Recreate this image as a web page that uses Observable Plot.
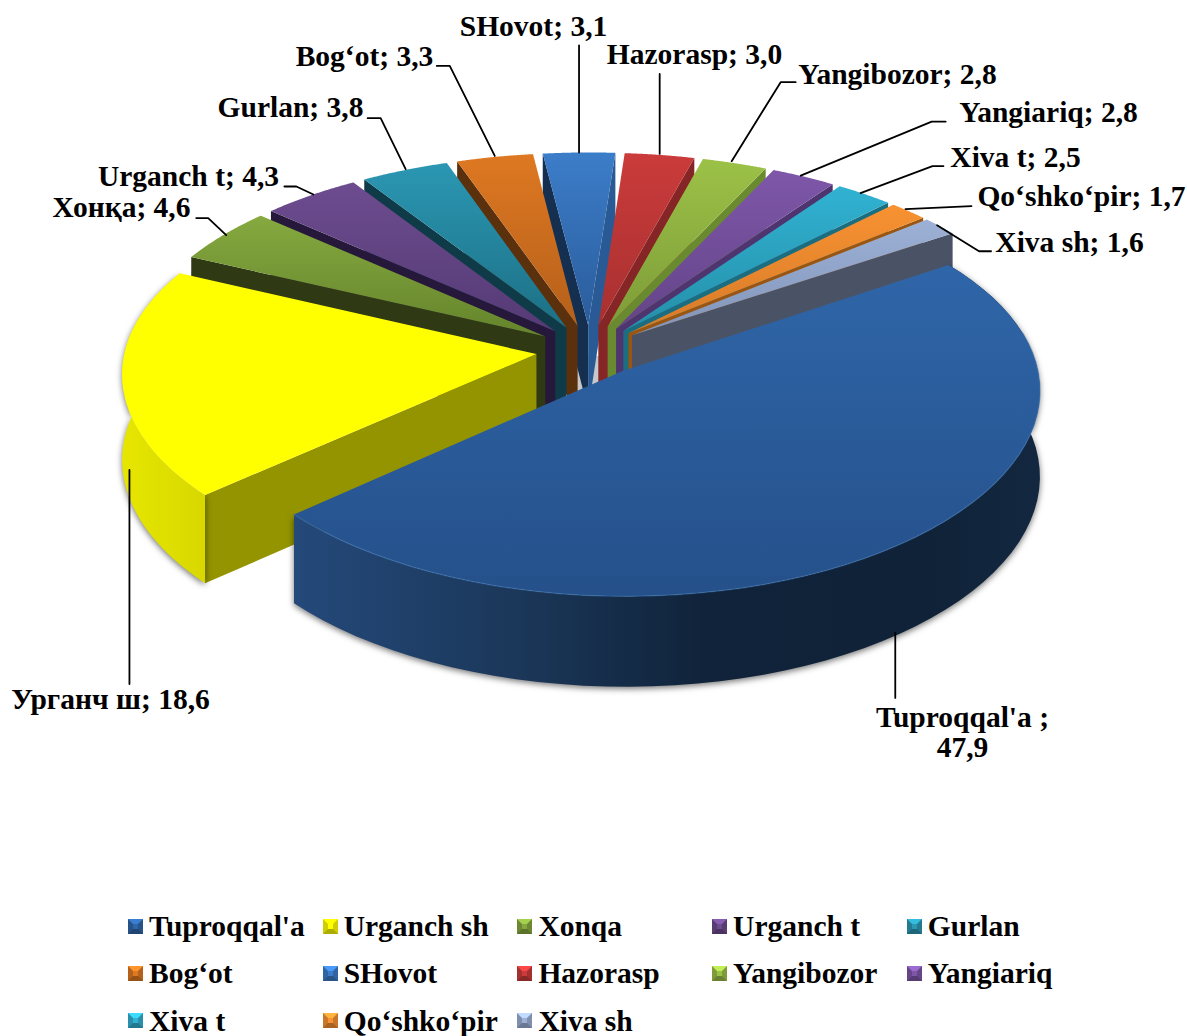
<!DOCTYPE html>
<html><head><meta charset="utf-8">
<script src="https://cdn.jsdelivr.net/npm/d3@7"></script>
<script src="https://cdn.jsdelivr.net/npm/@observablehq/plot@0.6"></script>
<style>
html,body{margin:0;background:#fff;overflow:hidden}
#chart svg{display:block}
#legend{position:relative;height:146px;width:1187px;font:bold 29.5px "Liberation Serif",serif;color:#000}
.item{position:absolute;display:flex;align-items:center;white-space:nowrap;line-height:26px}
.key{display:inline-block;width:5px;height:5px;border-style:solid;border-width:5px;margin-right:6px;flex:none}
</style></head><body>
<div id="chart"></div><div id="legend"></div>
<script>
const categories=["Tuproqqal'a","Urganch sh","Xonqa","Urganch t","Gurlan","Bog‘ot","SHovot","Hazorasp","Yangibozor","Yangiariq","Xiva t","Qo‘shko‘pir","Xiva sh"];
const labelNames=["Tuproqqal'a ;\n","Урганч ш; ","Хонқа; ","Urganch t; ","Gurlan; ","Bog‘ot; ","SHovot; ","Hazorasp; ","Yangibozor; ","Yangiariq; ","Xiva t; ","Qo‘shko‘pir; ","Xiva sh; "];
const values=[47.9,18.6,4.6,4.3,3.8,3.3,3.1,3.0,2.8,2.8,2.5,1.7,1.6];
const topLight=["#2f66a9","#ffff00","#86a93f","#6d4c8f","#2b97b3","#de7822","#3c7dc9","#cb3b3b","#9cc147","#7e57a9","#31b2d2","#f89232","#9db1d7"];
const topDark=["#25508a","#ffff00","#65842c","#553a75","#1c7085","#b5601a","#2a5c9b","#a83030","#7d9c38","#644488","#248fa8","#d67a28","#8194b8"];
const wallStart=["#10233a","#949400","#2f3a15","#26183a","#0f3b48","#5a300d","#142f50","#862525","#6a8a30","#4f3570","#1b6d80","#9a5510","#465060"];
const wallEnd=["#10233a","#949400","#2f3a15","#26183a","#0f3b48","#5a300d","#2a5a95","#862525","#6a8a30","#4f3570","#1b6d80","#9a5510","#4a5366"];
// page layout of the callouts: label centre, and leader vertices relative to each slice's rim point
const labelAt=[[962,732],[110,699],[121,207],[188,176],[290,107],[364,56],[533,26],[694,54],[897,74],[1048,112],[1015,157],[1081,196],[1069,242]];
const leaderOffsets=[[[-4,-1],[-4,64]],[[7,2],[7,216]],[[3,0],[-15,-17],[-27,-17]],[[3,-1],[-14,-9],[-26,-9]],[[1,-1],[-24,-52],[-37,-52]],[[0,-1],[-45,-91],[-58,-91]],[[0,0],[0,-107]],[[0,-1],[0,-81]],[[-3,-2],[46,-81],[61,-81]],[[-3,-1],[128,-55],[142,-55]],[[-4,-1],[68,-28],[79,-28]],[[-3,-2],[63,-5]],[[-3,-1],[39,25],[51,25]]];
const startAngle=56,cx=589,cy=350,R=411.5,A=196.5,kx=0.09,ky=0.1072,explode=0.13,baseDepth=85,depthPow=0.5;
const rad=d=>d*Math.PI/180;
const total=d3.sum(values);
let run=0;
const slices=values.map((v,i)=>{const a0=startAngle+run/total*360;run+=v;const a1=startAngle+run/total*360;return{i,name:categories[i],v,a0,a1,mid:(a0+a1)/2};});
function pt(s,a,r,down){
  const X=r*Math.sin(rad(a))+explode*Math.sin(rad(s.mid));
  const Z=r*Math.cos(rad(a))+explode*Math.cos(rad(s.mid));
  const w=1+ky*Z;
  return {x:cx+X*R/(1+kx*Z),y:cy-A*Z/w+(down?baseDepth/Math.pow(w,depthPow):0)};
}
function arc(s,down){return d3.range(0,61).map(k=>pt(s,s.a0+(s.a1-s.a0)*k/60,1,down));}
const order=[...slices].sort((p,q)=>Math.cos(rad(q.mid))-Math.cos(rad(p.mid)));
const marks=[];
marks.push(()=>{
  const defs=d3.create("svg:defs");
  slices.forEach((s,i)=>{
    const g=defs.append("linearGradient").attr("id","top"+i).attr("x1",0).attr("y1",0).attr("x2",0).attr("y2",1);
    g.append("stop").attr("offset",0).attr("stop-color",topLight[i]);
    g.append("stop").attr("offset",1).attr("stop-color",topDark[i]);
  });
  const b=defs.append("linearGradient").attr("id","wall0");
  [[0,"#24497a"],[.3,"#1b3759"],[.55,"#10233a"],[.85,"#0f2238"],[1,"#132840"]].forEach(([o,c])=>b.append("stop").attr("offset",o).attr("stop-color",c));
  const y=defs.append("linearGradient").attr("id","wall1");
  [[0,"#e6e600"],[1,"#d8d800"]].forEach(([o,c])=>y.append("stop").attr("offset",o).attr("stop-color",c));
  return defs.node();
});
marks.push(Plot.dot([{x:cx,y:cy+28}],{x:"x",y:"y",r:24,fill:"#c8c8c8",stroke:"none"}));
order.forEach(s=>{
  const i=s.i;
  const a=pt(s,s.a0,0,false),ab=pt(s,s.a0,0,true);
  const top=[a,...arc(s,false)];
  if(Math.sin(rad(s.a0))<0)marks.push(Plot.line([a,pt(s,s.a0,1,false),pt(s,s.a0,1,true),ab],{x:"x",y:"y",fill:wallStart[i],stroke:"none"}));
  if(Math.sin(rad(s.a1))>0)marks.push(Plot.line([a,pt(s,s.a1,1,false),pt(s,s.a1,1,true),ab],{x:"x",y:"y",fill:wallEnd[i],stroke:"none"}));
  if(i<2)marks.push(Plot.line([...arc(s,false),...arc(s,true).reverse()],{x:"x",y:"y",fill:"url(#wall"+i+")",stroke:"none",imageFilter:"drop-shadow(0px 2px 3px rgba(0,0,0,.55))"}));
  marks.push(Plot.line(top,{x:"x",y:"y",fill:"url(#top"+i+")",stroke:"none"}));
  if(i===0)marks.push(Plot.line(arc(s,false).slice(8),{x:"x",y:"y",stroke:"#3a72b0",strokeWidth:1.5,strokeOpacity:.5}));
});
const leaderRows=slices.flatMap((s,i)=>{
  const p=pt(s,s.mid,1,i<2);
  return leaderOffsets[i].map(([dx,dy])=>({i,x:p.x+dx,y:p.y+dy}));
});
marks.push(Plot.line(leaderRows,{x:"x",y:"y",z:"i",stroke:"#000",strokeWidth:1.8}));
const labelRows=slices.map((s,i)=>({x:labelAt[i][0],y:labelAt[i][1],text:labelNames[i]+s.v.toFixed(1).replace(".",",")}));
marks.push(Plot.text(labelRows,{x:"x",y:"y",text:"text",fontFamily:"Liberation Serif",fontWeight:"bold",fontSize:29.5,fill:"#000",lineHeight:1}));
const plot=Plot.plot({width:1187,height:890,margin:0,x:{domain:[0,1187],range:[0,1187],axis:null},y:{domain:[0,890],range:[0,890],axis:null},marks});
document.getElementById("chart").append(plot);
const legend=document.getElementById("legend");
slices.forEach((s,i)=>{
  const el=document.createElement("div");el.className="item";
  el.style.left=(128+(i%5)*194.7)+"px";el.style.top=(23+Math.floor(i/5)*47.4)+"px";
  const k=document.createElement("span");k.className="key";
  const c=d3.color(topLight[i]);
  k.style.background=c.formatHex();
  k.style.borderColor=`${c.brighter(.6).formatHex()} ${c.darker(.6).formatHex()} ${c.darker(1.1).formatHex()} ${c.darker(.6).formatHex()}`;
  el.append(k,document.createTextNode(s.name));legend.append(el);
});
</script></body></html>
